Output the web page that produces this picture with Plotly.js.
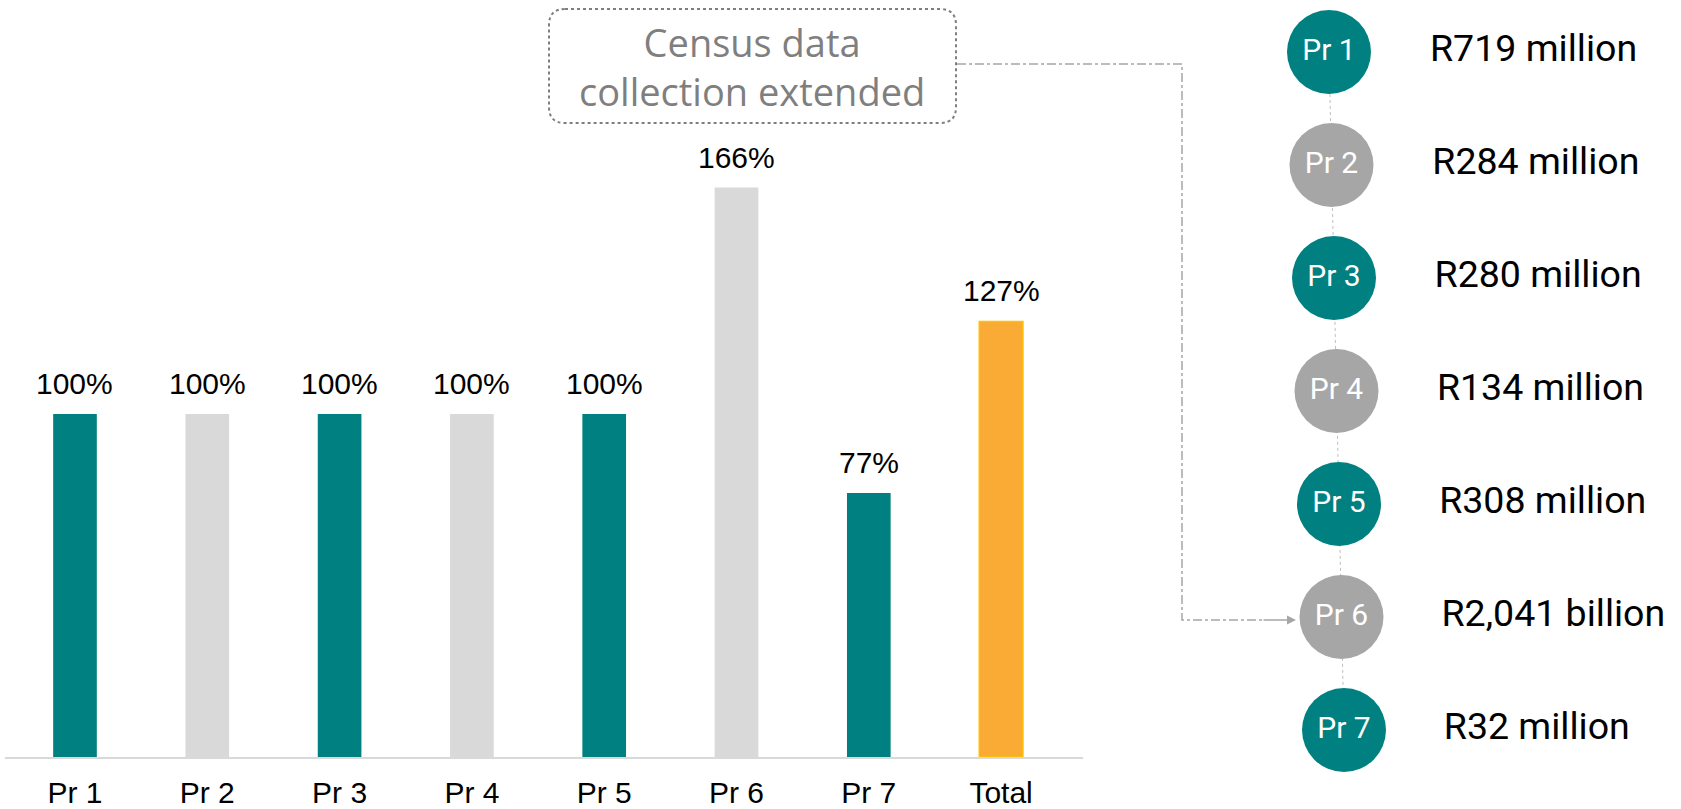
<!DOCTYPE html>
<html>
<head>
<meta charset="utf-8">
<script src="https://cdn.plot.ly/plotly-3.0.1.min.js"></script>
<style>html,body{margin:0;padding:0;background:#fff;}#chart{width:1681px;height:809px;}</style>
</head>
<body>
<div id="chart"></div>
<script>
// ---- data ----
const categories = ['Pr 1', 'Pr 2', 'Pr 3', 'Pr 4', 'Pr 5', 'Pr 6', 'Pr 7', 'Total'];
const completion = [100, 100, 100, 100, 100, 166, 77, 127];
const provinces = ['Pr 1', 'Pr 2', 'Pr 3', 'Pr 4', 'Pr 5', 'Pr 6', 'Pr 7'];
const budgets = ['R719 million', 'R284 million', 'R280 million', 'R134 million', 'R308 million', 'R2,041 billion', 'R32 million'];
const calloutLines = ['Census data', 'collection extended'];

// ---- styles ----
const TEAL = '#008080', LIGHT = '#D9D9D9', CIRC_GREY = '#A6A6A6', ORANGE = '#F9AB36';
const W = 1681, H = 809;
const barColors = categories.map((c, i) => c === 'Total' ? ORANGE : (i % 2 === 0 ? TEAL : LIGHT));
const barLines = categories.map(c => c === 'Total' ? '#FFC000' : 'rgba(0,0,0,0)');
const circleColors = provinces.map((p, i) => i % 2 === 0 ? TEAL : CIRC_GREY);

// layout positions for the right-hand column (pixels on overlay axes)
const circX = provinces.map((p, i) => 1329 + i * 2.5);
const circY = provinces.map((p, i) => 52 + i * 113);
const textX = provinces.map((p, i) => 1430 + i * 2.3);

const traces = [
  {
    type: 'bar', x: categories, y: completion, width: 0.33,
    marker: {color: barColors, line: {color: barLines, width: 1.5}},
    hoverinfo: 'skip', xaxis: 'x', yaxis: 'y'
  },
  {
    type: 'scatter', mode: 'lines', x: circX, y: circY,
    line: {color: '#BFBFBF', width: 1, dash: 'dot'},
    xaxis: 'x2', yaxis: 'y2', hoverinfo: 'skip'
  },
  {
    type: 'scatter', mode: 'markers+text', x: circX, y: circY, text: provinces,
    textposition: 'middle center',
    textfont: {family: 'Roboto', size: 30, color: '#FFFFFF'},
    marker: {size: 84, color: circleColors, line: {width: 0}},
    xaxis: 'x2', yaxis: 'y2', hoverinfo: 'skip'
  },
  {
    type: 'scatter', mode: 'text', x: textX, y: circY, text: budgets,
    textposition: 'middle right',
    textfont: {family: 'Roboto', size: 37.5, color: '#000000'},
    xaxis: 'x2', yaxis: 'y2', hoverinfo: 'skip'
  }
];

const annotations = categories.map((c, i) => ({
  x: c, y: completion[i], xref: 'x', yref: 'y',
  text: completion[i] + '%', showarrow: false, yanchor: 'bottom', yshift: 12,
  font: {family: 'Liberation Sans, Arial', size: 30, color: '#000000'}
}));
annotations.push({
  x: 752, y: 66, xref: 'x2', yref: 'y2', text: calloutLines.join('<br>'), showarrow: false,
  font: {family: 'Open Sans', size: 38, color: '#7F7F7F'}
});
annotations.push({
  x: 1296, y: 620, ax: 1262, ay: 620, xref: 'x2', yref: 'y2', axref: 'x2', ayref: 'y2',
  text: '', showarrow: true, arrowhead: 2, arrowsize: 1.2, arrowwidth: 1.5, arrowcolor: '#A6A6A6'
});

// rounded dotted callout box
const bx0 = 549, bx1 = 956, by0 = 9, by1 = 123, r = 16;
const boxPath = `M ${bx0 + r},${by0} L ${bx1 - r},${by0} Q ${bx1},${by0} ${bx1},${by0 + r} L ${bx1},${by1 - r} Q ${bx1},${by1} ${bx1 - r},${by1} L ${bx0 + r},${by1} Q ${bx0},${by1} ${bx0},${by1 - r} L ${bx0},${by0 + r} Q ${bx0},${by0} ${bx0 + r},${by0} Z`;

const shapes = [
  {type: 'path', xref: 'x2', yref: 'y2', path: boxPath, line: {color: '#7F7F7F', width: 2, dash: 'dot'}},
  {type: 'path', xref: 'x2', yref: 'y2', path: 'M 957,64 L 1182,64 L 1182,620 L 1264,620',
   line: {color: '#A6A6A6', width: 1.5, dash: 'dashdot'}}
];

const layout = {
  width: W, height: H,
  margin: {l: 0, r: 0, t: 0, b: 0},
  paper_bgcolor: '#FFFFFF', plot_bgcolor: 'rgba(0,0,0,0)',
  showlegend: false,
  xaxis: {
    domain: [5 / W, 1083 / W], range: [-0.529, 7.619], type: 'category',
    showline: true, linecolor: LIGHT, linewidth: 2, showgrid: false, zeroline: false,
    ticks: '', ticklabelstandoff: 8,
    tickfont: {family: 'Liberation Sans, Arial', size: 30, color: '#000000'}
  },
  yaxis: {
    domain: [(H - 757) / H, 1], range: [0, 757 / 3.43],
    visible: false, showgrid: false, zeroline: false
  },
  xaxis2: {domain: [0, 1], range: [0, W], anchor: 'y2', visible: false},
  yaxis2: {domain: [0, 1], range: [H, 0], anchor: 'x2', visible: false},
  annotations: annotations,
  shapes: shapes
};

Plotly.newPlot('chart', traces, layout, {displayModeBar: false, staticPlot: true});
</script>
</body>
</html>
